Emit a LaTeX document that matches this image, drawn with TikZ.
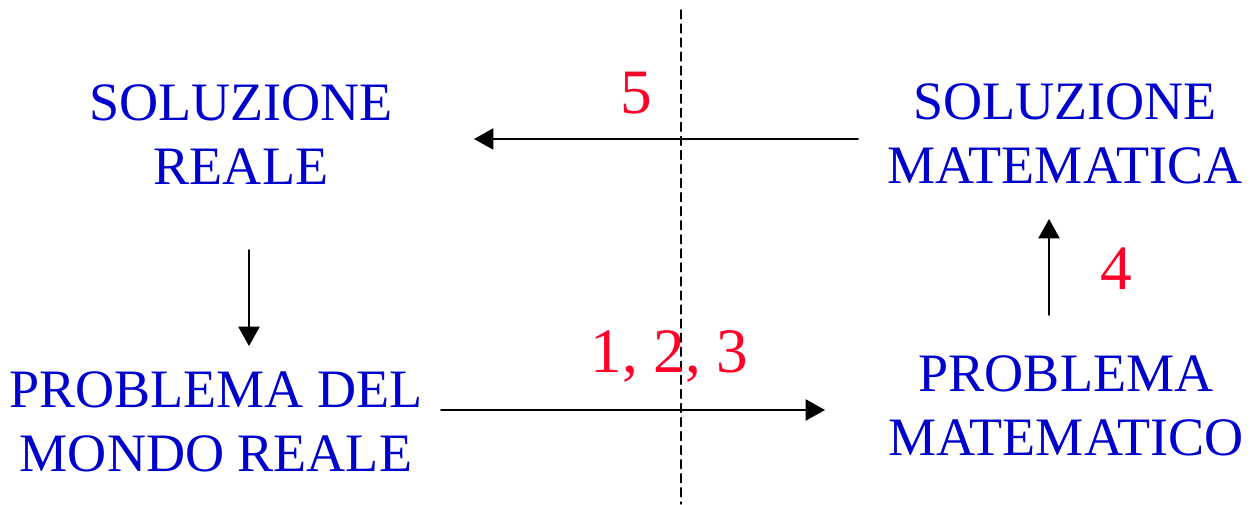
\documentclass[tikz,border=0pt]{standalone}
\usepackage{fontspec}
\setmainfont{Liberation Serif}
\usepackage{tkz-euclide}
\usetikzlibrary{arrows.meta,calc}
\definecolor{TextClr}{RGB}{0,0,204}
\definecolor{StepClr}{RGB}{255,0,40}

\begin{document}
\begin{tikzpicture}[x=0.02cm,y=0.02cm,
  boxtext/.style={inner sep=0pt,align=center,text=TextClr,font=\fontsize{30.8}{36.4}\selectfont},
  steptext/.style={inner sep=0pt,text=StepClr,font=\fontsize{36}{40}\selectfont},
  flow/.style={line width=1.1pt,color=black,-{Triangle[length=11pt,width=12pt]}}]
\useasboundingbox (0,0) rectangle (1250,504);
\tkzSetUpLine[line width=1pt,color=black]

% dividing line
\tkzDefPoint(681,494){T}
\tkzDefPoint(681,0){U}
\tkzDrawSegment[dash pattern=on 5pt off 3pt,line width=0.8pt](T,U)

\tkzDefPoint(858,365){A}
\tkzDefPoint(474,365){B}
\tkzDefPoint(441,94){C}
\tkzDefPoint(825,94){D}
\tkzDefPoint(249,254){E}
\tkzDefPoint(249,158){F}
\tkzDefPoint(1049,189){G}
\tkzDefPoint(1049,285){H}

\tkzDrawSegments[flow](A,B C,D E,F G,H)

\node[boxtext] (solreale) at (241,369) {SOLUZIONE\\REALE};
\node[boxtext] (solmat) at (1065,370) {SOLUZIONE\\MATEMATICA};
\node[boxtext] (probreale) at (216,82) {PROBLEMA DEL\\MONDO REALE};
\node[boxtext] (probmat) at (1066,98.5) {PROBLEMA\\MATEMATICO};

\node[steptext] (passo5) at (636,410.5) {5};
\node[steptext,anchor=base] (passi) at (669.5,132) {1, 2, 3};
\node[steptext] (passo4) at (1116,235) {4};

\end{tikzpicture}
\end{document}
